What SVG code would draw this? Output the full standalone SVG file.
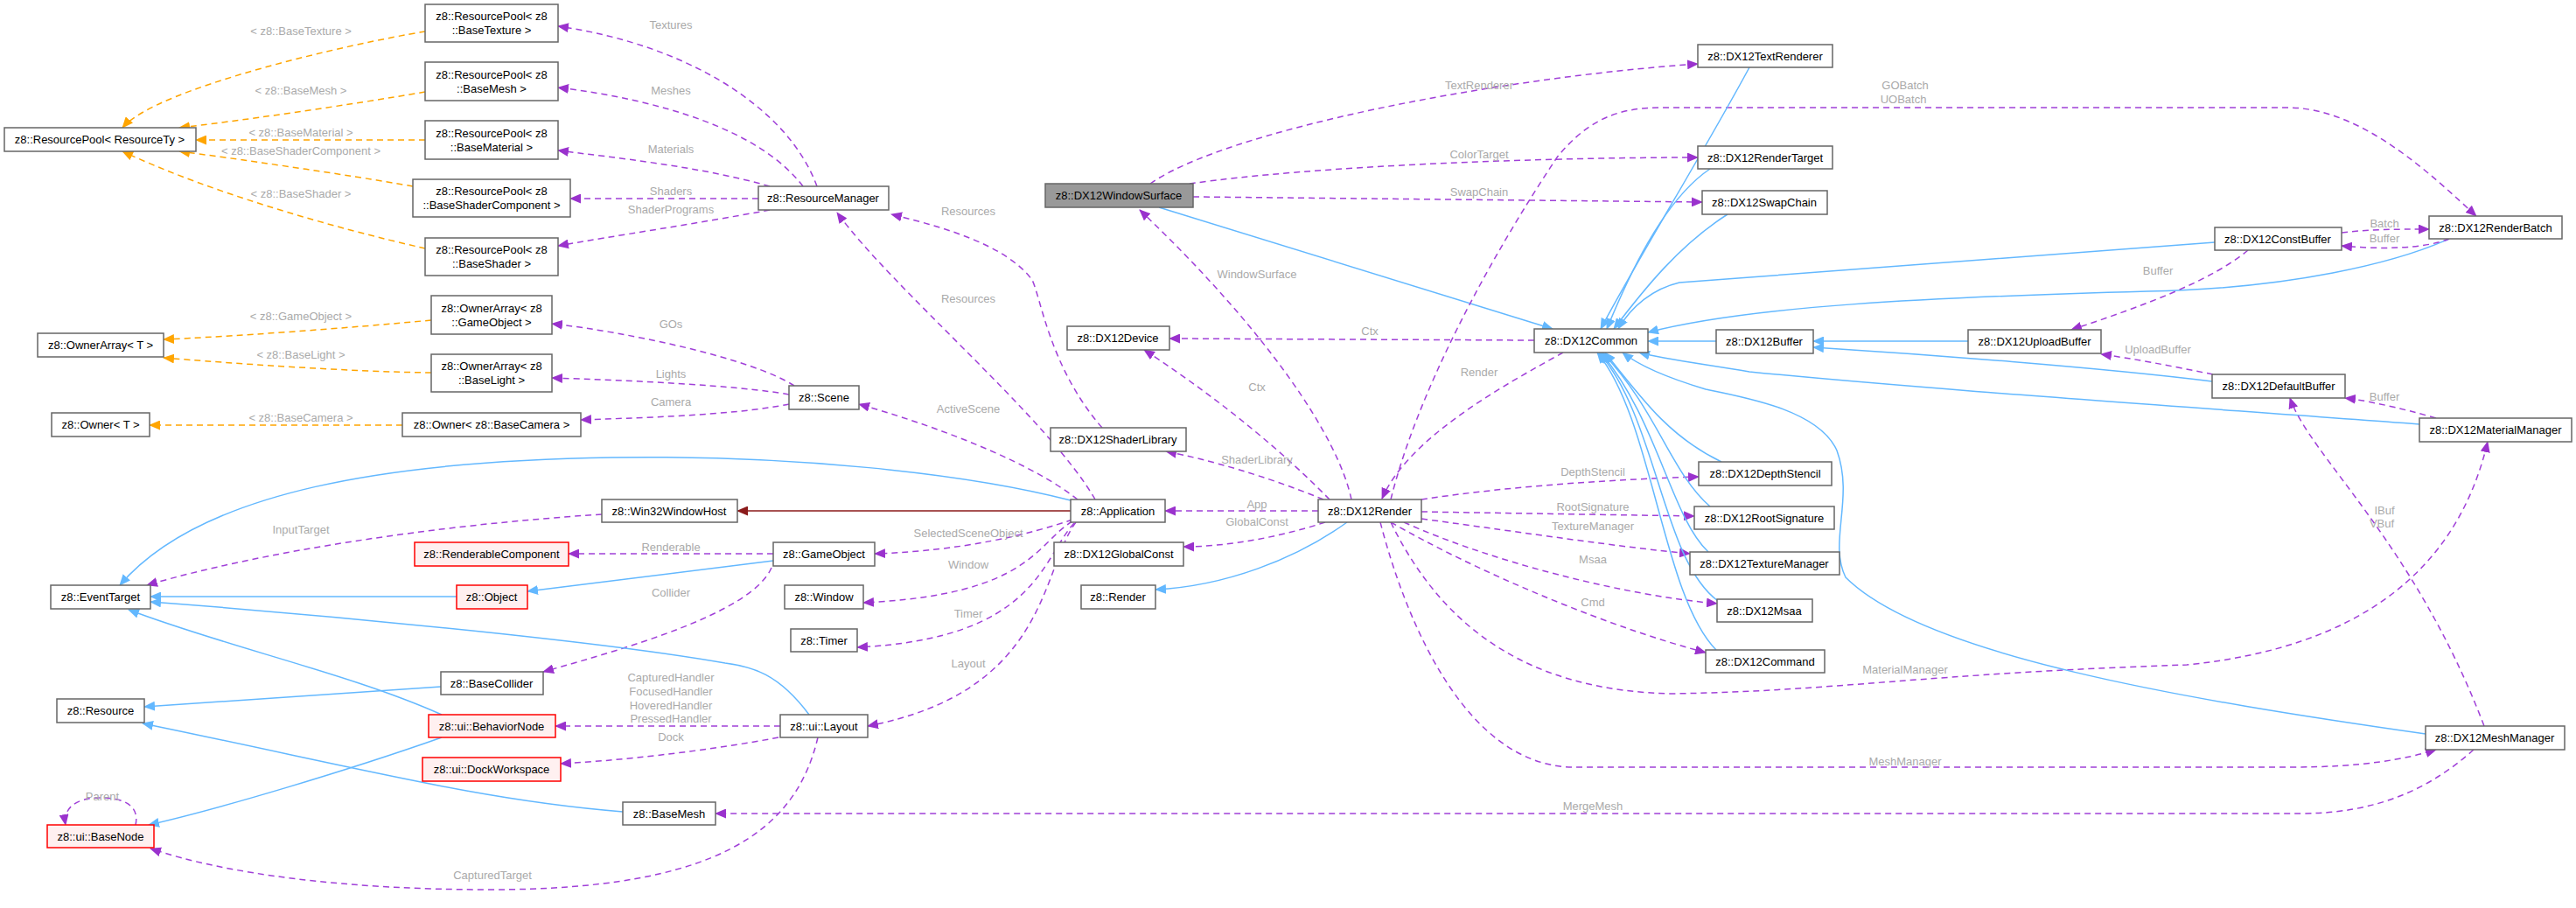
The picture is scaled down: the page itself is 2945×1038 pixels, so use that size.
<svg xmlns="http://www.w3.org/2000/svg" width="2945" height="1038" viewBox="0 0 2945 1038">
<style>
.n rect{fill:#fff;stroke:#666;stroke-width:1.5}
.r rect{fill:#FFF0F0;stroke:#FF0000;stroke-width:1.5}
.g rect{fill:#999;stroke:#666;stroke-width:1.5}
text{font-family:"Liberation Sans",Arial,sans-serif;font-size:13px;text-anchor:middle;fill:#000}
.l text{fill:#aaa}
.e path{fill:none;stroke-width:1.5}
.o{stroke:#FFA500;stroke-dasharray:7,5;marker-end:url(#mo)}
.p{stroke:#A040D8;stroke-dasharray:7,5;marker-end:url(#mp)}
.b{stroke:#63B8FF;marker-end:url(#mb)}
.d{stroke:#8B1A1A;marker-end:url(#md)}
</style>
<defs>
<marker id="mo" markerWidth="13" markerHeight="11" refX="12" refY="5.5" orient="auto" markerUnits="userSpaceOnUse"><path d="M0,0L13,5.5L0,11z" fill="#FFA500"/></marker>
<marker id="mp" markerWidth="13" markerHeight="11" refX="12" refY="5.5" orient="auto" markerUnits="userSpaceOnUse"><path d="M0,0L13,5.5L0,11z" fill="#9A32CD"/></marker>
<marker id="mb" markerWidth="13" markerHeight="11" refX="12" refY="5.5" orient="auto" markerUnits="userSpaceOnUse"><path d="M0,0L13,5.5L0,11z" fill="#63B8FF"/></marker>
<marker id="md" markerWidth="13" markerHeight="11" refX="12" refY="5.5" orient="auto" markerUnits="userSpaceOnUse"><path d="M0,0L13,5.5L0,11z" fill="#8B1A1A"/></marker>
</defs>
<rect width="2945" height="1038" fill="#fff"/>
<g id="edges" class="e">
<path class="o" d="M486,36 C400,50 180,100 140,146"/>
<path class="o" d="M486,105 C400,120 260,140 205,146"/>
<path class="o" d="M486,160 L224,160"/>
<path class="o" d="M472,213 C400,200 260,180 205,173"/>
<path class="o" d="M486,284 C380,260 240,220 140,173"/>
<path class="o" d="M493,366 C400,375 260,385 187,388"/>
<path class="o" d="M493,426 C400,425 260,415 187,409"/>
<path class="o" d="M460,486 L171,486"/>
<path class="p" d="M934,213 C900,120 780,50 638,30"/>
<path class="p" d="M918,213 C870,150 760,115 638,100"/>
<path class="p" d="M880,213 C800,190 700,180 638,172"/>
<path class="p" d="M867,227 L652,227"/>
<path class="p" d="M880,240 C800,255 700,270 638,281"/>
<path class="p" d="M908,441 C860,410 720,380 631,370"/>
<path class="p" d="M902,451 C840,440 720,435 631,432"/>
<path class="p" d="M902,462 C840,475 720,478 664,480"/>
<path class="p" d="M1260,489 C1200,420 1190,340 1180,320 C1150,280 1080,260 1019,245"/>
<path class="p" d="M1252,571 C1200,480 1020,330 957,243"/>
<path class="p" d="M1232,571 C1180,530 1080,490 982,462"/>
<path class="d" d="M1224,584 L843,584"/>
<path class="b" d="M1224,572 C1100,540 900,520 700,523 C450,527 230,560 137,669"/>
<path class="p" d="M1226,594 C1180,610 1100,630 1000,633"/>
<path class="p" d="M1226,596 C1185,620 1180,680 987,689"/>
<path class="p" d="M1228,598 C1190,640 1185,730 980,740"/>
<path class="p" d="M1230,597 C1190,650 1200,790 992,830"/>
<path class="p" d="M688,588 C500,600 300,630 168,669"/>
<path class="p" d="M884,633 L650,633"/>
<path class="b" d="M884,641 L603,676"/>
<path class="p" d="M882,649 C860,700 720,740 621,768"/>
<path class="b" d="M522,682 L172,682"/>
<path class="b" d="M925,817 C890,770 860,762 829,758 C700,735 400,705 172,688"/>
<path class="b" d="M505,817 C400,770 260,740 147,697"/>
<path class="b" d="M504,785 L165,808"/>
<path class="b" d="M712,928 C550,915 420,880 163,827"/>
<path class="b" d="M505,843 C400,880 250,925 170,943"/>
<path class="p" d="M892,830 L635,830"/>
<path class="p" d="M890,843 C800,860 700,870 641,873"/>
<path class="p" d="M935,843 C910,950 820,1017 560,1017 C400,1017 260,1000 172,970"/>
<path class="p" d="M155,943 C160,920 140,912 115,912 C85,912 72,925 75,943"/>
<path class="p" d="M2828,857 C2780,900 2720,930 2630,930 L818,930"/>
<path class="p" d="M1315,210 C1400,150 1700,90 1941,73"/>
<path class="p" d="M1360,210 C1500,190 1750,180 1941,180"/>
<path class="p" d="M1364,225 L1946,231"/>
<path class="b" d="M1325,237 L1775,376"/>
<path class="p" d="M1545,571 C1530,500 1450,380 1303,240"/>
<path class="p" d="M1520,571 C1470,520 1400,460 1308,400"/>
<path class="p" d="M1754,389 L1337,387"/>
<path class="p" d="M1787,403 C1720,440 1610,500 1580,570"/>
<path class="p" d="M1590,571 C1620,450 1700,300 1780,180 C1820,130 1860,123 1900,123 L2615,123 C2700,123 2780,200 2831,247"/>
<path class="p" d="M1513,571 C1450,545 1380,525 1333,516"/>
<path class="p" d="M1507,584 L1332,584"/>
<path class="p" d="M1515,597 C1460,615 1400,625 1353,625"/>
<path class="b" d="M1540,597 C1480,640 1400,670 1321,674"/>
<path class="p" d="M1625,571 C1730,555 1850,548 1942,545"/>
<path class="p" d="M1625,585 L1937,590"/>
<path class="p" d="M1625,593 C1750,610 1850,625 1932,633"/>
<path class="p" d="M1605,597 C1700,640 1850,680 1963,690"/>
<path class="p" d="M1590,597 C1700,660 1850,720 1950,746"/>
<path class="p" d="M1590,597 C1650,720 1750,790 1912,793 C2100,790 2200,770 2500,760 C2700,740 2810,650 2844,505"/>
<path class="p" d="M1578,597 C1610,720 1680,877 1800,877 L2620,877 C2700,877 2750,868 2785,857"/>
<path class="b" d="M2000,77 C1950,170 1870,300 1830,376"/>
<path class="b" d="M1955,193 C1900,230 1860,320 1837,376"/>
<path class="b" d="M1975,245 C1920,280 1880,330 1845,376"/>
<path class="b" d="M2532,277 C2300,295 2100,310 1920,323 C1890,330 1865,350 1850,376"/>
<path class="b" d="M2800,273 C2740,300 2620,330 2455,333 C2200,340 2000,350 1884,380"/>
<path class="b" d="M1962,390 L1884,390"/>
<path class="b" d="M2250,390 L2073,390"/>
<path class="b" d="M2529,436 C2400,420 2200,405 2073,397"/>
<path class="b" d="M2766,485 C2500,465 2200,445 2000,425 C1940,415 1900,410 1874,403"/>
<path class="b" d="M2773,839 C2500,800 2200,750 2110,660 C2090,620 2120,570 2100,515 C2080,470 2000,455 1950,445 C1900,430 1870,415 1855,403"/>
<path class="b" d="M1968,528 C1910,500 1880,460 1835,403"/>
<path class="b" d="M1955,579 C1910,540 1895,470 1832,403"/>
<path class="b" d="M1953,631 C1910,590 1895,480 1830,403"/>
<path class="b" d="M1964,687 C1900,640 1895,480 1828,403"/>
<path class="b" d="M1962,743 C1900,680 1890,480 1826,403"/>
<path class="p" d="M2677,266 C2710,262 2740,262 2777,262"/>
<path class="p" d="M2800,273 C2770,285 2720,285 2677,281"/>
<path class="p" d="M2570,286 C2530,320 2450,350 2368,377"/>
<path class="p" d="M2530,428 C2480,418 2440,410 2402,405"/>
<path class="p" d="M2785,478 C2740,465 2700,457 2681,455"/>
<path class="p" d="M2840,830 C2760,620 2640,520 2618,455"/>
</g>
<g id="labels" class="l">
<text x="344" y="40">&lt; z8::BaseTexture &gt;</text>
<text x="344" y="108">&lt; z8::BaseMesh &gt;</text>
<text x="344" y="156">&lt; z8::BaseMaterial &gt;</text>
<text x="344" y="177">&lt; z8::BaseShaderComponent &gt;</text>
<text x="344" y="226">&lt; z8::BaseShader &gt;</text>
<text x="767" y="33">Textures</text>
<text x="767" y="108">Meshes</text>
<text x="767" y="175">Materials</text>
<text x="767" y="223">Shaders</text>
<text x="767" y="244">ShaderPrograms</text>
<text x="344" y="366">&lt; z8::GameObject &gt;</text>
<text x="344" y="410">&lt; z8::BaseLight &gt;</text>
<text x="767" y="375">GOs</text>
<text x="767" y="432">Lights</text>
<text x="767" y="464">Camera</text>
<text x="344" y="482">&lt; z8::BaseCamera &gt;</text>
<text x="344" y="610">InputTarget</text>
<text x="767" y="630">Renderable</text>
<text x="767" y="682">Collider</text>
<text x="767" y="779">CapturedHandler</text>
<text x="767" y="795">FocusedHandler</text>
<text x="767" y="811">HoveredHandler</text>
<text x="767" y="826">PressedHandler</text>
<text x="767" y="847">Dock</text>
<text x="117" y="915">Parent</text>
<text x="563" y="1005">CapturedTarget</text>
<text x="1691" y="102">TextRenderer</text>
<text x="1691" y="181">ColorTarget</text>
<text x="1691" y="224">SwapChain</text>
<text x="1107" y="246">Resources</text>
<text x="1437" y="318">WindowSurface</text>
<text x="1107" y="346">Resources</text>
<text x="1566" y="383">Ctx</text>
<text x="1691" y="430">Render</text>
<text x="1437" y="447">Ctx</text>
<text x="1107" y="472">ActiveScene</text>
<text x="1437" y="530">ShaderLibrary</text>
<text x="1821" y="544">DepthStencil</text>
<text x="1437" y="581">App</text>
<text x="1821" y="584">RootSignature</text>
<text x="1437" y="601">GlobalConst</text>
<text x="1821" y="606">TextureManager</text>
<text x="1107" y="614">SelectedSceneObject</text>
<text x="1821" y="644">Msaa</text>
<text x="1107" y="650">Window</text>
<text x="1821" y="693">Cmd</text>
<text x="1107" y="706">Timer</text>
<text x="1107" y="763">Layout</text>
<text x="1821" y="926">MergeMesh</text>
<text x="2178" y="102">GOBatch</text>
<text x="2176" y="118">UOBatch</text>
<text x="2726" y="260">Batch</text>
<text x="2726" y="277">Buffer</text>
<text x="2467" y="314">Buffer</text>
<text x="2467" y="404">UploadBuffer</text>
<text x="2726" y="458">Buffer</text>
<text x="2726" y="588">IBuf</text>
<text x="2723" y="603">VBuf</text>
<text x="2178" y="770">MaterialManager</text>
<text x="2178" y="875">MeshManager</text>
</g>
<g id="n_rpt" class="n"><rect x="486" y="5" width="152" height="43"/><text x="562" y="23">z8::ResourcePool&lt; z8</text><text x="562" y="39">::BaseTexture &gt;</text></g>
<g id="n_rpm" class="n"><rect x="486" y="71" width="152" height="44"/><text x="562" y="90">z8::ResourcePool&lt; z8</text><text x="562" y="106">::BaseMesh &gt;</text></g>
<g id="n_rpmat" class="n"><rect x="486" y="138" width="152" height="44"/><text x="562" y="157">z8::ResourcePool&lt; z8</text><text x="562" y="173">::BaseMaterial &gt;</text></g>
<g id="n_rpsc" class="n"><rect x="472" y="205" width="180" height="43"/><text x="562" y="223">z8::ResourcePool&lt; z8</text><text x="562" y="239">::BaseShaderComponent &gt;</text></g>
<g id="n_rps" class="n"><rect x="486" y="272" width="152" height="43"/><text x="562" y="290">z8::ResourcePool&lt; z8</text><text x="562" y="306">::BaseShader &gt;</text></g>
<g id="n_rp" class="n"><rect x="5" y="146" width="219" height="27"/><text x="114" y="164">z8::ResourcePool&lt; ResourceTy &gt;</text></g>
<g id="n_rm" class="n"><rect x="867" y="213" width="149" height="27"/><text x="941" y="231">z8::ResourceManager</text></g>
<g id="n_oag" class="n"><rect x="493" y="338" width="138" height="44"/><text x="562" y="357">z8::OwnerArray&lt; z8</text><text x="562" y="373">::GameObject &gt;</text></g>
<g id="n_oal" class="n"><rect x="493" y="405" width="138" height="43"/><text x="562" y="423">z8::OwnerArray&lt; z8</text><text x="562" y="439">::BaseLight &gt;</text></g>
<g id="n_oat" class="n"><rect x="43" y="381" width="144" height="27"/><text x="115" y="399">z8::OwnerArray&lt; T &gt;</text></g>
<g id="n_ot" class="n"><rect x="59" y="472" width="112" height="27"/><text x="115" y="490">z8::Owner&lt; T &gt;</text></g>
<g id="n_obc" class="n"><rect x="460" y="472" width="204" height="27"/><text x="562" y="490">z8::Owner&lt; z8::BaseCamera &gt;</text></g>
<g id="n_scene" class="n"><rect x="902" y="441" width="80" height="27"/><text x="942" y="459">z8::Scene</text></g>
<g id="n_w32" class="n"><rect x="688" y="571" width="155" height="26"/><text x="765" y="589">z8::Win32WindowHost</text></g>
<g id="n_rc" class="r"><rect x="474" y="620" width="176" height="27"/><text x="562" y="638">z8::RenderableComponent</text></g>
<g id="n_go" class="n"><rect x="884" y="620" width="116" height="27"/><text x="942" y="638">z8::GameObject</text></g>
<g id="n_obj" class="r"><rect x="522" y="669" width="81" height="27"/><text x="562" y="687">z8::Object</text></g>
<g id="n_et" class="n"><rect x="58" y="669" width="114" height="27"/><text x="115" y="687">z8::EventTarget</text></g>
<g id="n_win" class="n"><rect x="897" y="669" width="90" height="27"/><text x="942" y="687">z8::Window</text></g>
<g id="n_timer" class="n"><rect x="904" y="719" width="76" height="26"/><text x="942" y="737">z8::Timer</text></g>
<g id="n_bc" class="n"><rect x="504" y="768" width="117" height="26"/><text x="562" y="786">z8::BaseCollider</text></g>
<g id="n_res" class="n"><rect x="65" y="799" width="100" height="27"/><text x="115" y="817">z8::Resource</text></g>
<g id="n_bn" class="r"><rect x="490" y="817" width="145" height="26"/><text x="562" y="835">z8::ui::BehaviorNode</text></g>
<g id="n_layout" class="n"><rect x="892" y="817" width="100" height="26"/><text x="942" y="835">z8::ui::Layout</text></g>
<g id="n_dw" class="r"><rect x="483" y="866" width="158" height="27"/><text x="562" y="884">z8::ui::DockWorkspace</text></g>
<g id="n_bm" class="n"><rect x="712" y="917" width="106" height="26"/><text x="765" y="935">z8::BaseMesh</text></g>
<g id="n_bnode" class="r"><rect x="54" y="943" width="122" height="26"/><text x="115" y="961">z8::ui::BaseNode</text></g>
<g id="n_ws" class="g"><rect x="1195" y="210" width="169" height="27"/><text x="1279" y="228">z8::DX12WindowSurface</text></g>
<g id="n_tr" class="n"><rect x="1941" y="51" width="154" height="26"/><text x="2018" y="69">z8::DX12TextRenderer</text></g>
<g id="n_rt" class="n"><rect x="1941" y="167" width="154" height="26"/><text x="2018" y="185">z8::DX12RenderTarget</text></g>
<g id="n_sc" class="n"><rect x="1946" y="218" width="143" height="27"/><text x="2017" y="236">z8::DX12SwapChain</text></g>
<g id="n_dev" class="n"><rect x="1220" y="373" width="117" height="27"/><text x="1278" y="391">z8::DX12Device</text></g>
<g id="n_com" class="n"><rect x="1754" y="376" width="130" height="27"/><text x="1819" y="394">z8::DX12Common</text></g>
<g id="n_sl" class="n"><rect x="1201" y="489" width="155" height="27"/><text x="1278" y="507">z8::DX12ShaderLibrary</text></g>
<g id="n_app" class="n"><rect x="1224" y="571" width="108" height="26"/><text x="1278" y="589">z8::Application</text></g>
<g id="n_dxr" class="n"><rect x="1507" y="571" width="118" height="26"/><text x="1566" y="589">z8::DX12Render</text></g>
<g id="n_gc" class="n"><rect x="1205" y="620" width="148" height="27"/><text x="1279" y="638">z8::DX12GlobalConst</text></g>
<g id="n_render" class="n"><rect x="1236" y="669" width="85" height="27"/><text x="1278" y="687">z8::Render</text></g>
<g id="n_ds" class="n"><rect x="1942" y="528" width="152" height="27"/><text x="2018" y="546">z8::DX12DepthStencil</text></g>
<g id="n_rs" class="n"><rect x="1937" y="579" width="160" height="26"/><text x="2017" y="597">z8::DX12RootSignature</text></g>
<g id="n_tm" class="n"><rect x="1932" y="631" width="171" height="26"/><text x="2017" y="649">z8::DX12TextureManager</text></g>
<g id="n_msaa" class="n"><rect x="1963" y="685" width="109" height="26"/><text x="2017" y="703">z8::DX12Msaa</text></g>
<g id="n_cmd" class="n"><rect x="1950" y="743" width="136" height="26"/><text x="2018" y="761">z8::DX12Command</text></g>
<g id="n_rb" class="n"><rect x="2777" y="247" width="152" height="26"/><text x="2853" y="265">z8::DX12RenderBatch</text></g>
<g id="n_cb" class="n"><rect x="2532" y="260" width="145" height="26"/><text x="2604" y="278">z8::DX12ConstBuffer</text></g>
<g id="n_buf" class="n"><rect x="1962" y="377" width="111" height="27"/><text x="2017" y="395">z8::DX12Buffer</text></g>
<g id="n_ub" class="n"><rect x="2250" y="377" width="152" height="27"/><text x="2326" y="395">z8::DX12UploadBuffer</text></g>
<g id="n_db" class="n"><rect x="2529" y="428" width="152" height="27"/><text x="2605" y="446">z8::DX12DefaultBuffer</text></g>
<g id="n_mat" class="n"><rect x="2766" y="478" width="174" height="27"/><text x="2853" y="496">z8::DX12MaterialManager</text></g>
<g id="n_mesh" class="n"><rect x="2773" y="830" width="159" height="27"/><text x="2852" y="848">z8::DX12MeshManager</text></g>
</svg>
